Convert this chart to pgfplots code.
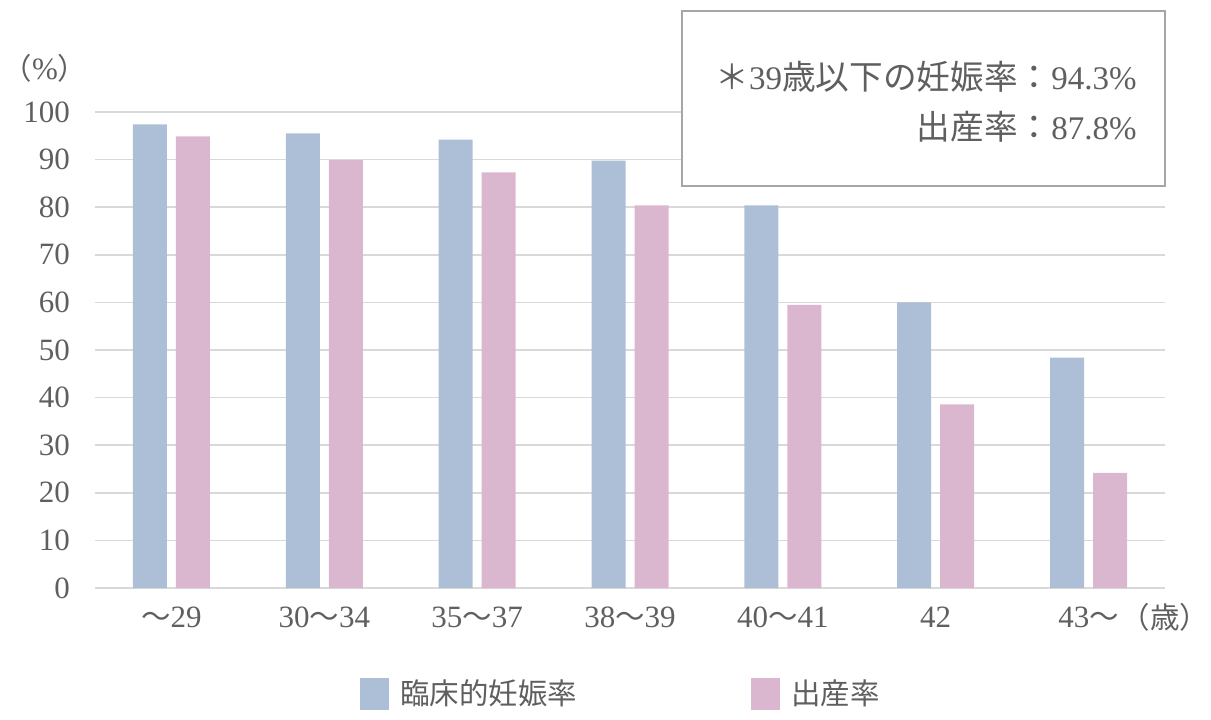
\documentclass[border=0pt]{standalone}
\usepackage{fontspec}
\setmainfont{Liberation Serif}
\newfontfamily\jp[Scale=0.95]{Noto Sans CJK JP}
\newfontfamily\jpb[Scale=1.02]{Noto Sans CJK JP}
\usepackage{pgfplots}
\pgfplotsset{compat=1.18}
\definecolor{cblue}{HTML}{ADBFD7}
\definecolor{cpink}{HTML}{DAB7CE}
\definecolor{tgray}{HTML}{5F5F5F}
\definecolor{ggray}{HTML}{D9D9D9}
\definecolor{bgray}{HTML}{A6A6A6}
\begin{document}
\begin{tikzpicture}
\useasboundingbox (0pt,0pt) rectangle (605.5pt,359.5pt);
\begin{axis}[
  at={(47.5pt,65.5pt)}, anchor=south west,
  scale only axis, width=535pt, height=238pt,
  xmin=-0.5, xmax=6.5, ymin=0, ymax=100,
  ybar=4.5pt, bar width=17pt,
  xtick={0,...,6},
  xticklabels={{\jp 〜}29, 30{\jp 〜}34, 35{\jp 〜}37, 38{\jp 〜}39, 40{\jp 〜}41, 42, 43{\jp 〜}},
  ytick={0,10,...,100},
  ymajorgrids, grid style={ggray, line width=0.75pt},
  axis x line*=bottom, axis y line*=left,
  y axis line style={draw=none},
  x axis line style={ggray, line width=0.75pt, -},
  major tick length=0pt, tick style={draw=none},
  yticklabel style={font=\fontsize{15.5}{16}\selectfont, text=tgray, xshift=-9pt},
  xticklabel style={font=\fontsize{15.5}{16}\selectfont, text=tgray, yshift=-6pt},
  /pgf/number format/assume math mode=true,
  legend style={at={(0.2477,-0.2227)}, anchor=west, draw=none, inner sep=0pt,
    font=\fontsize{15.5}{16}\selectfont, text=tgray,
    /tikz/every even column/.append style={column sep=85pt}},
  legend columns=2, legend cell align=left,
  legend image code/.code={\fill[#1,draw=none] (0pt,-8pt) rectangle (14.5pt,8pt);},
  clip=false,
]
\addplot[fill=cblue, draw=none] coordinates {(0,97.4) (1,95.5) (2,94.2) (3,89.8) (4,80.4) (5,60.0) (6,48.4)};
\addplot[fill=cpink, draw=none] coordinates {(0,94.9) (1,89.9) (2,87.3) (3,80.4) (4,59.5) (5,38.6) (6,24.2)};
\legend{\hspace{3.5pt}{\jp 臨床的妊娠率},\hspace{3.5pt}{\jp 出産率}}
\end{axis}
\draw[bgray, line width=0.75pt, fill=white] (341pt,354pt) rectangle (582.5pt,266.5pt);
\node[anchor=east, text=tgray, inner sep=0pt, font=\fontsize{16.5}{17}\selectfont] at (568.5pt,321pt) {{\jpb ＊}39{\jpb 歳以下の妊娠率：}94.3\%};
\node[anchor=east, text=tgray, inner sep=0pt, font=\fontsize{16.5}{17}\selectfont] at (568.5pt,296pt) {{\jpb 出産率：}87.8\%};
\node[text=tgray, inner sep=0pt, font=\fontsize{15.5}{16}\selectfont] at (22.5pt,325.5pt) {{\jp （}\%{\jp ）}};
\node[text=tgray, inner sep=0pt, font=\fontsize{15.5}{16}\selectfont] at (582.5pt,51pt) {{\jp （歳）}};
\end{tikzpicture}
\end{document}
